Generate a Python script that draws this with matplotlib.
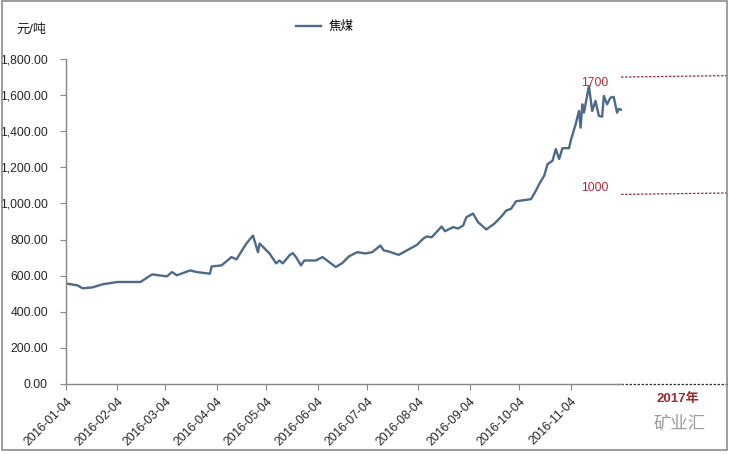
import matplotlib
matplotlib.use('Agg')
import matplotlib.pyplot as plt
import matplotlib.dates as mdates
import matplotlib.transforms as mtransforms
from matplotlib.patches import Rectangle
import pandas as pd

plt.rcParams['font.family'] = ['Liberation Sans', 'Noto Sans CJK SC', 'DejaVu Sans']

# coking coal price, yuan/ton
dates = ['2016-01-04', '2016-01-11', '2016-01-14', '2016-01-20', '2016-01-26',
         '2016-02-04', '2016-02-18', '2016-02-25', '2016-03-05', '2016-03-08',
         '2016-03-11', '2016-03-19', '2016-03-23', '2016-03-31', '2016-04-01',
         '2016-04-07', '2016-04-13', '2016-04-16', '2016-04-22', '2016-04-26',
         '2016-04-29', '2016-04-30', '2016-05-06', '2016-05-10', '2016-05-12',
         '2016-05-14', '2016-05-18', '2016-05-20', '2016-05-22', '2016-05-25',
         '2016-05-27', '2016-06-03', '2016-06-07', '2016-06-15', '2016-06-19',
         '2016-06-23', '2016-06-28', '2016-07-03', '2016-07-07', '2016-07-12',
         '2016-07-14', '2016-07-17', '2016-07-23', '2016-07-29', '2016-08-03',
         '2016-08-07', '2016-08-09', '2016-08-12', '2016-08-18', '2016-08-20',
         '2016-08-25', '2016-08-28', '2016-08-31', '2016-09-02', '2016-09-06',
         '2016-09-09', '2016-09-14', '2016-09-19', '2016-09-23', '2016-09-26',
         '2016-09-29', '2016-10-02', '2016-10-11', '2016-10-14', '2016-10-16',
         '2016-10-19', '2016-10-21', '2016-10-24', '2016-10-26', '2016-10-28',
         '2016-10-30', '2016-11-03', '2016-11-04', '2016-11-07', '2016-11-09',
         '2016-11-10', '2016-11-11', '2016-11-12', '2016-11-15', '2016-11-17',
         '2016-11-19', '2016-11-21', '2016-11-23', '2016-11-24', '2016-11-26',
         '2016-11-28', '2016-11-30', '2016-12-02', '2016-12-03', '2016-12-05']
prices = [557, 546, 530, 535, 552,
          565, 565, 607, 596, 620,
          602, 629, 620, 611, 651,
          657, 703, 690, 778, 822,
          730, 778, 723, 668, 684,
          668, 712, 725, 703, 657,
          684, 684, 703, 648, 670,
          707, 730, 723, 730, 767,
          740, 734, 715, 745, 770,
          806, 817, 813, 872, 846,
          869, 861, 878, 924, 944,
          896, 856, 889, 927, 960,
          971, 1012, 1024, 1071, 1108,
          1154, 1218, 1236, 1301, 1246,
          1306, 1306, 1347, 1439, 1512,
          1420, 1549, 1503, 1650, 1512,
          1568, 1485, 1481, 1595, 1549,
          1586, 1590, 1503, 1523, 1518]
tick_dates = ['2016-%02d-04' % m for m in range(1, 12)]
y_ticks = [0, 200, 400, 600, 800, 1000, 1200, 1400, 1600, 1800]
# guide line level, label level, label text
marks = [(1700, 1667, '1700'), (1050, 1087, '1000')]

x = pd.to_datetime(dates)

fig = plt.figure(figsize=(7.29, 4.54), dpi=100)
ax = fig.add_axes([66/729, 1-384/454, (622-66)/729, (384-59)/454])

ax.plot(x, prices, color='#4d6a8a', linewidth=1.7, label='焦煤')

ax.set_xlim(x[0], x[-1])
ax.set_ylim(0, 1800)
ax.set_yticks(y_ticks)
ax.set_yticklabels(['{:,.2f}'.format(v) for v in y_ticks])
ax.set_xticks(pd.to_datetime(tick_dates))
ax.xaxis.set_major_formatter(mdates.DateFormatter('%Y-%m-%d'))
plt.setp(ax.get_xticklabels(), rotation=45, ha='right', rotation_mode='anchor')
ax.tick_params(axis='both', direction='out', length=4, color='#868686',
               labelsize=8.7, labelcolor='#262626')
ax.tick_params(axis='x', pad=4)
ax.tick_params(axis='y', pad=9)
for s in ['top', 'right']:
    ax.spines[s].set_visible(False)
for s in ['left', 'bottom']:
    ax.spines[s].set_color('#868686')
    ax.spines[s].set_linewidth(1)

ax.legend(loc='center', bbox_to_anchor=(325/729, 1-27/454),
          bbox_transform=fig.transFigure, frameon=False, fontsize=9,
          handlelength=2.0, handletextpad=0.6)
fig.text(16/729, 1-30/454, '元/吨', fontsize=9.5, va='center', ha='left', color='#262626')

# hand-drawn guide lines on the right
tr = mtransforms.blended_transform_factory(fig.transFigure, ax.transData)
for level, lab_y, txt in marks:
    ax.plot([621/729, 728/729], [level, level + 8], transform=tr, clip_on=False,
            color='#9a2f3c', linewidth=0.9, linestyle=(0, (2, 1.2)))
    ax.text(595/729, lab_y, txt, transform=tr, color='#b3283a',
            fontsize=8.7, ha='center', va='center')
ax.plot([617/729, 728/729], [0, 0], transform=tr, clip_on=False,
        color='#333333', linewidth=0.9, linestyle=(0, (2, 1.2)))
fig.text(678/729, 1-399/454, '2017年', color='#a0282f', fontsize=9.5,
         fontweight='bold', ha='center', va='center')
fig.text(680/729, 1-423/454, '矿业汇', color='#9a9a9a', fontsize=12.5,
         ha='center', va='center')

fig.patches.append(Rectangle((2/729, 1-450/454), 725/729, 449/454,
                             transform=fig.transFigure, fill=False,
                             edgecolor='#8c8c8c', linewidth=1.2))

plt.savefig('out.png', dpi=100)
